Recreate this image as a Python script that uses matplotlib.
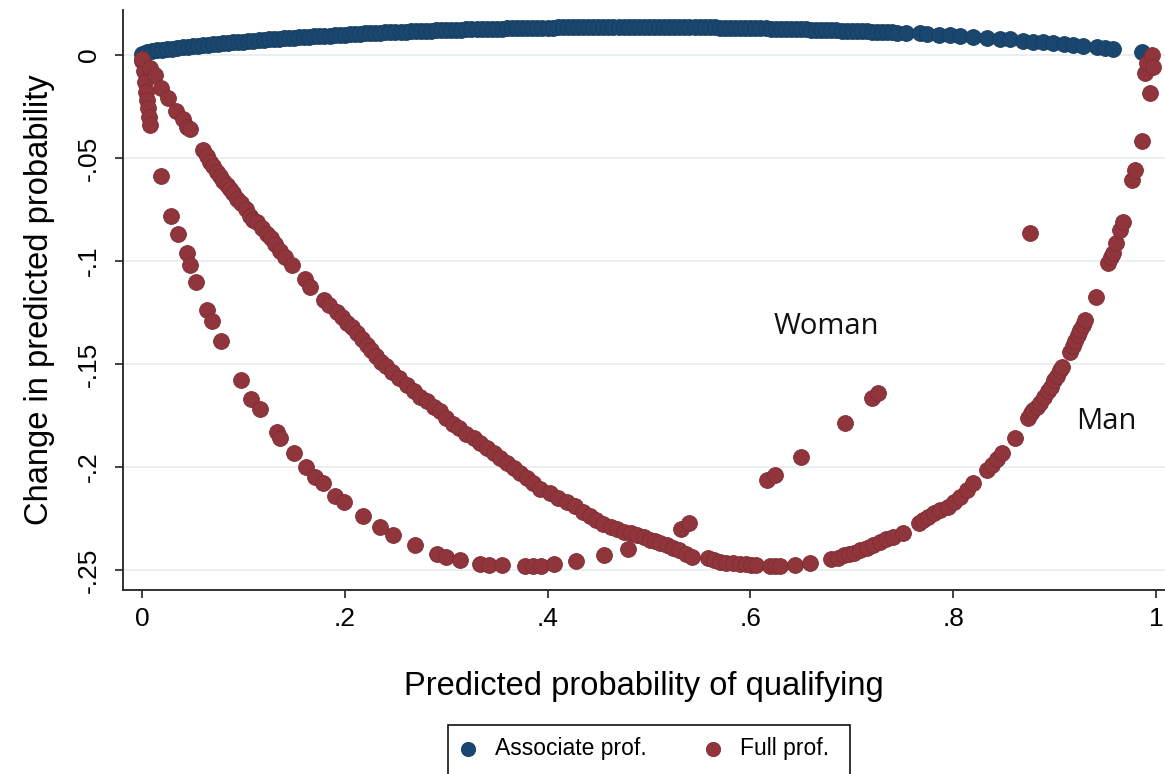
import matplotlib
matplotlib.use("Agg")
import matplotlib.pyplot as plt
from matplotlib.patches import Rectangle

plt.rcParams['font.family'] = ['Liberation Sans', 'DejaVu Sans']

# Associate prof. (blue)
assoc_x = [0.000, 0.005, 0.010, 0.015, 0.020, 0.025, 0.030, 0.035, 0.040, 0.045,
           0.050, 0.055, 0.060, 0.065, 0.070, 0.075, 0.080, 0.085, 0.090, 0.095,
           0.100, 0.105, 0.110, 0.115, 0.120, 0.125, 0.130, 0.135, 0.140, 0.145,
           0.150, 0.155, 0.160, 0.165, 0.170, 0.175, 0.180, 0.185, 0.190, 0.195,
           0.200, 0.205, 0.210, 0.215, 0.220, 0.225, 0.230, 0.235, 0.240, 0.245,
           0.250, 0.255, 0.260, 0.265, 0.270, 0.275, 0.280, 0.285, 0.290, 0.295,
           0.300, 0.305, 0.310, 0.315, 0.320, 0.325, 0.330, 0.335, 0.340, 0.345,
           0.350, 0.355, 0.360, 0.365, 0.370, 0.375, 0.380, 0.385, 0.390, 0.395,
           0.400, 0.405, 0.410, 0.415, 0.420, 0.425, 0.430, 0.435, 0.440, 0.445,
           0.450, 0.455, 0.460, 0.465, 0.470, 0.475, 0.480, 0.485, 0.490, 0.495,
           0.500, 0.505, 0.510, 0.515, 0.520, 0.525, 0.530, 0.535, 0.540, 0.545,
           0.550, 0.555, 0.560, 0.565, 0.570, 0.575, 0.580, 0.585, 0.590, 0.595,
           0.600, 0.605, 0.610, 0.615, 0.620, 0.625, 0.630, 0.635, 0.640, 0.645,
           0.650, 0.655, 0.660, 0.665, 0.670, 0.675, 0.680, 0.685, 0.690, 0.695,
           0.700, 0.705, 0.710, 0.715, 0.720, 0.725, 0.730, 0.735, 0.740, 0.745,
           0.754, 0.767, 0.774, 0.786, 0.797, 0.807, 0.820, 0.833, 0.846, 0.856,
           0.869, 0.879, 0.889, 0.899, 0.909, 0.918, 0.928, 0.942, 0.950, 0.958,
           0.986]
assoc_y = [0.0005, 0.0013, 0.0018, 0.0022, 0.0025, 0.0028, 0.0031, 0.0034, 0.0036, 0.0039,
           0.0041, 0.0044, 0.0046, 0.0049, 0.0051, 0.0054, 0.0056, 0.0058, 0.0061, 0.0063,
           0.0065, 0.0067, 0.0069, 0.0071, 0.0073, 0.0075, 0.0077, 0.0079, 0.0080, 0.0082,
           0.0084, 0.0085, 0.0087, 0.0088, 0.0090, 0.0091, 0.0093, 0.0094, 0.0096, 0.0097,
           0.0099, 0.0100, 0.0101, 0.0103, 0.0104, 0.0105, 0.0106, 0.0108, 0.0109, 0.0110,
           0.0111, 0.0112, 0.0113, 0.0114, 0.0115, 0.0116, 0.0117, 0.0118, 0.0119, 0.0120,
           0.0121, 0.0121, 0.0122, 0.0123, 0.0124, 0.0124, 0.0125, 0.0126, 0.0127, 0.0127,
           0.0128, 0.0128, 0.0129, 0.0129, 0.0130, 0.0130, 0.0131, 0.0131, 0.0132, 0.0132,
           0.0133, 0.0133, 0.0134, 0.0134, 0.0134, 0.0134, 0.0135, 0.0135, 0.0135, 0.0135,
           0.0136, 0.0136, 0.0136, 0.0136, 0.0136, 0.0136, 0.0137, 0.0137, 0.0137, 0.0137,
           0.0137, 0.0137, 0.0136, 0.0136, 0.0136, 0.0136, 0.0136, 0.0136, 0.0135, 0.0135,
           0.0135, 0.0135, 0.0134, 0.0134, 0.0133, 0.0133, 0.0132, 0.0132, 0.0131, 0.0131,
           0.0130, 0.0130, 0.0129, 0.0129, 0.0128, 0.0128, 0.0127, 0.0127, 0.0126, 0.0125,
           0.0124, 0.0124, 0.0123, 0.0122, 0.0121, 0.0120, 0.0119, 0.0119, 0.0118, 0.0117,
           0.0116, 0.0115, 0.0114, 0.0114, 0.0113, 0.0112, 0.0111, 0.0110, 0.0109, 0.0108,
           0.0107, 0.0104, 0.0102, 0.0099, 0.0096, 0.0093, 0.0089, 0.0084, 0.0079, 0.0075,
           0.0069, 0.0065, 0.0061, 0.0057, 0.0052, 0.0047, 0.0042, 0.0036, 0.0032, 0.0028,
           0.0012]

# Full prof. (red) - outer branch
full_a_x = [0.000, 0.002, 0.003, 0.004, 0.005, 0.006, 0.007, 0.008,
            0.019, 0.029, 0.036, 0.044, 0.047, 0.053, 0.064, 0.069, 0.078, 0.098,
            0.108, 0.116, 0.133, 0.136, 0.150, 0.162, 0.171, 0.179, 0.190, 0.199,
            0.218, 0.235, 0.248, 0.269, 0.291, 0.300, 0.314, 0.333, 0.342, 0.355,
            0.378, 0.386, 0.394, 0.406, 0.428, 0.456, 0.479, 0.532, 0.540, 0.616,
            0.624, 0.650, 0.693, 0.720, 0.726, 0.876]
full_a_y = [-0.003, -0.008, -0.013, -0.018, -0.022, -0.026, -0.030, -0.034,
            -0.059, -0.078, -0.087, -0.096, -0.102, -0.110, -0.124, -0.129, -0.139, -0.158,
            -0.167, -0.172, -0.183, -0.186, -0.193, -0.200, -0.205, -0.208, -0.214, -0.217,
            -0.224, -0.229, -0.233, -0.238, -0.242, -0.2435, -0.245, -0.247, -0.2476, -0.2476,
            -0.248, -0.248, -0.248, -0.247, -0.2456, -0.2427, -0.240, -0.230, -0.2274, -0.2063,
            -0.204, -0.1953, -0.1788, -0.1667, -0.1642, -0.0866]

# Full prof. (red) - inner branch
full_b_x = [0.000, 0.008, 0.013, 0.019, 0.026, 0.034, 0.040, 0.044, 0.047,
            0.060, 0.064, 0.067, 0.070, 0.074, 0.077, 0.080, 0.084, 0.087, 0.090,
            0.094, 0.098, 0.103, 0.107, 0.110, 0.113, 0.118, 0.123, 0.127, 0.131,
            0.136, 0.141, 0.148, 0.161, 0.166, 0.180, 0.184, 0.192, 0.197, 0.202,
            0.207, 0.212, 0.217, 0.222, 0.226, 0.231, 0.236, 0.241, 0.247, 0.254,
            0.261, 0.268, 0.274, 0.281, 0.288, 0.294, 0.300, 0.307, 0.313, 0.320,
            0.327, 0.333, 0.340, 0.347, 0.353, 0.360, 0.367, 0.373, 0.380, 0.386,
            0.393, 0.402, 0.410, 0.419, 0.427, 0.435, 0.442, 0.448, 0.455, 0.463,
            0.469, 0.475, 0.482, 0.488, 0.495, 0.501, 0.506, 0.511, 0.518, 0.524,
            0.530, 0.537, 0.542, 0.558, 0.564, 0.570, 0.576, 0.583, 0.590, 0.596,
            0.601, 0.606, 0.619, 0.624, 0.629, 0.644, 0.659, 0.680, 0.686, 0.692,
            0.697, 0.702, 0.708, 0.715, 0.721, 0.728, 0.734, 0.741, 0.751, 0.766,
            0.770, 0.775, 0.781, 0.787, 0.795, 0.801, 0.807, 0.814, 0.820, 0.833,
            0.838, 0.843, 0.848, 0.861, 0.874, 0.877, 0.879, 0.883, 0.886, 0.890,
            0.894, 0.897, 0.900, 0.902, 0.905, 0.907, 0.915, 0.918, 0.920, 0.923,
            0.925, 0.928, 0.930, 0.941, 0.953, 0.956, 0.958, 0.961, 0.965, 0.968,
            0.976, 0.979, 0.986, 0.989, 0.991, 0.994, 0.996, 0.997]
full_b_y = [-0.002, -0.0065, -0.0097, -0.016, -0.021, -0.027, -0.031, -0.035, -0.036,
            -0.046, -0.049, -0.052, -0.054, -0.057, -0.059, -0.061, -0.063, -0.065, -0.067,
            -0.070, -0.072, -0.075, -0.078, -0.080, -0.081, -0.084, -0.087, -0.089, -0.092,
            -0.095, -0.098, -0.102, -0.109, -0.1125, -0.119, -0.1215, -0.125, -0.127, -0.130,
            -0.132, -0.135, -0.138, -0.141, -0.143, -0.146, -0.149, -0.151, -0.154, -0.157,
            -0.160, -0.163, -0.166, -0.168, -0.171, -0.173, -0.176, -0.179, -0.181, -0.184,
            -0.186, -0.1885, -0.191, -0.193, -0.1955, -0.198, -0.2005, -0.203, -0.2055, -0.208,
            -0.2105, -0.2128, -0.215, -0.2168, -0.219, -0.2217, -0.224, -0.2257, -0.2275, -0.229,
            -0.230, -0.2314, -0.232, -0.233, -0.234, -0.2354, -0.236, -0.237, -0.238, -0.2395,
            -0.2405, -0.242, -0.2435, -0.2443, -0.245, -0.246, -0.2465, -0.2468, -0.247, -0.247,
            -0.2474, -0.2476, -0.248, -0.248, -0.248, -0.2476, -0.2465, -0.2448, -0.244, -0.2427,
            -0.242, -0.2416, -0.2405, -0.2395, -0.238, -0.2362, -0.235, -0.2338, -0.2322, -0.2273,
            -0.2255, -0.2241, -0.2225, -0.2209, -0.2193, -0.217, -0.2144, -0.211, -0.208, -0.2015,
            -0.199, -0.196, -0.1934, -0.186, -0.1764, -0.174, -0.1723, -0.171, -0.169, -0.1658,
            -0.163, -0.161, -0.158, -0.156, -0.153, -0.1513, -0.144, -0.1415, -0.139, -0.136,
            -0.1335, -0.131, -0.1286, -0.1173, -0.101, -0.098, -0.0963, -0.0914, -0.085, -0.081,
            -0.0607, -0.0558, -0.042, -0.009, -0.004, -0.0186, 0.000, -0.0057]

full_x = full_a_x + full_b_x
full_y = full_a_y + full_b_y

xticks = [0, 0.2, 0.4, 0.6, 0.8, 1.0]
xtick_labels = ['0', '.2', '.4', '.6', '.8', '1']
yticks = [0, -0.05, -0.1, -0.15, -0.2, -0.25]
ytick_labels = ['0', '-.05', '-.1', '-.15', '-.2', '-.25']

navy = '#1a476f'
maroon = '#90353b'
W, H = 1165, 774

fig = plt.figure(figsize=(11.65, 7.74), dpi=100)
ax = fig.add_axes([123 / W, 1 - 590 / H, 1 - 123 / W, (590 - 10) / H])

ax.scatter(assoc_x, assoc_y, s=130, color=navy, edgecolors='#163d60', linewidths=0.6,
           label='Associate prof.', zorder=3, clip_on=False)
ax.scatter(full_x, full_y, s=130, color=maroon, edgecolors='#7e2d33', linewidths=0.6,
           label='Full prof.', zorder=4, clip_on=False)

ax.set_xlim(-0.0187, 1.009)
ax.set_ylim(-0.2597, 0.0218)

ax.set_xticks(xticks)
ax.set_xticklabels(xtick_labels)
ax.set_yticks(yticks)
ax.set_yticklabels(ytick_labels, rotation=90, va='center')

for sp in ['top', 'right']:
    ax.spines[sp].set_visible(False)
for sp in ['left', 'bottom']:
    ax.spines[sp].set_color('#222222')
    ax.spines[sp].set_linewidth(1.3)

ax.tick_params(axis='both', direction='out', length=6, width=1.2, color='#222222',
               labelsize=19)
ax.tick_params(axis='x', pad=6)
ax.tick_params(axis='y', pad=10)
ax.grid(axis='y', color='#e8eef1', linewidth=1.3, zorder=0)
ax.set_axisbelow(True)

ax.set_xlabel('Predicted probability of qualifying', fontsize=23.5, labelpad=29)
ax.set_ylabel('Change in predicted probability', fontsize=23.5, labelpad=16)

ax.text(0.6746, -0.1316, 'Woman', fontsize=21, family=['Open Sans', 'DejaVu Sans'],
        ha='center', va='center', color='#111111')
ax.text(0.951, -0.1777, 'Man', fontsize=21, family=['Open Sans', 'DejaVu Sans'],
        ha='center', va='center', color='#111111')

# legend: entries without frame, box drawn separately so it runs off the bottom edge
leg = fig.legend(loc='center left', bbox_to_anchor=(456.5 / W, 1 - 749 / H),
                 ncol=2, fontsize=16.5, frameon=False, markerscale=0.9,
                 handletextpad=0.68, columnspacing=2.38, borderpad=0,
                 borderaxespad=0, handlelength=1.0)
fig.patches.append(Rectangle((448 / W, -0.05), 402 / W, (H - 725) / H + 0.05,
                             transform=fig.transFigure, fill=False,
                             edgecolor='#111111', linewidth=1.2))

fig.savefig('out.png', dpi=100)
